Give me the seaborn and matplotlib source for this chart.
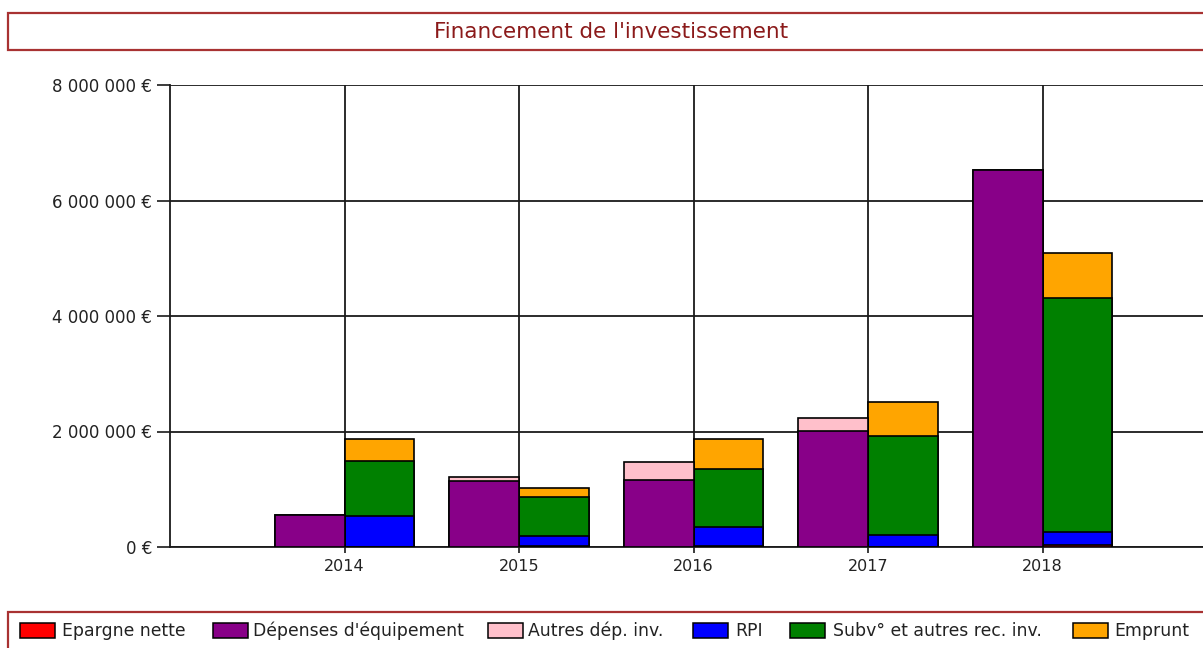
import matplotlib
matplotlib.use("Agg")
import matplotlib.pyplot as plt
from matplotlib.patches import Rectangle
from matplotlib.ticker import FuncFormatter
import seaborn as sns
import pandas as pd
import numpy as np

years = ["2014", "2015", "2016", "2017", "2018"]

# Dépenses (left bars)
depenses_equipement = [550000, 1148000, 1165000, 2014000, 6520000]
autres_dep_inv = [10000, 57000, 305000, 213000, 0]

# Ressources (right bars)
epargne_nette = [0, 20000, 20000, 0, 35000]
rpi = [540000, 175000, 326000, 208000, 225000]
subv_autres = [950000, 670000, 1010000, 1719000, 4045000]
emprunt = [385000, 165000, 519000, 577000, 785000]

legend_labels = ["Epargne nette", "Dépenses d'équipement", "Autres dép. inv.",
                 "RPI", "Subv° et autres rec. inv.", "Emprunt"]
colors = {"Epargne nette": "#FF0000", "Dépenses d'équipement": "#880088",
          "Autres dép. inv.": "#FFC0CB", "RPI": "#0000FF",
          "Subv° et autres rec. inv.": "#008000", "Emprunt": "#FFA500"}

sides = ["Dépenses", "Ressources"]

sns.set_theme(style="white")
plt.rcParams["font.family"] = ["DejaVu Sans"]

W, H = 1203, 648
fig = plt.figure(figsize=(W / 100, H / 100), dpi=100)
fig.patch.set_facecolor("white")

unit = 174.5
ax_left, ax_top, ax_bottom = 170, 85, 547
ax_width = 6 * unit
ax = fig.add_axes([ax_left / W, (H - ax_bottom) / H, ax_width / W, (ax_bottom - ax_top) / H])

right_series = [("Epargne nette", epargne_nette), ("RPI", rpi),
                ("Subv° et autres rec. inv.", subv_autres), ("Emprunt", emprunt)]
left_series = [("Dépenses d'équipement", depenses_equipement),
               ("Autres dép. inv.", autres_dep_inv)]

layers = []
for side, series in (("Ressources", right_series), ("Dépenses", left_series)):
    cum = np.zeros(len(years))
    side_layers = []
    for label, vals in series:
        cum = cum + np.array(vals, dtype=float)
        side_layers.append((side, label, cum.copy()))
    layers.extend(reversed(side_layers))

for side, label, cum in layers:
    df = pd.DataFrame({"year": years, "value": cum, "side": side})
    other = [s for s in sides if s != side][0]
    sns.barplot(data=df, x="year", y="value", hue="side", order=years,
                hue_order=sides, palette={side: colors[label], other: colors[label]},
                dodge=True, width=0.8, saturation=1, edgecolor="black",
                linewidth=1.2, errorbar=None, legend=False, ax=ax, zorder=3)

ax.set_xlim(-1, 5)
ax.set_ylim(0, 8000000)
ax.set_yticks([0, 2000000, 4000000, 6000000, 8000000])
ax.yaxis.set_major_formatter(FuncFormatter(lambda v, p: f"{int(v):,} €".replace(",", " ")))
ax.set_xlabel("")
ax.set_ylabel("")

ax.grid(True, axis="both", color="#1a1a1a", linewidth=1.3, zorder=0)
ax.set_axisbelow(True)
for s in ["top", "right"]:
    ax.spines[s].set_visible(False)
for s in ["left", "bottom"]:
    ax.spines[s].set_visible(True)
    ax.spines[s].set_color("#1a1a1a")
    ax.spines[s].set_linewidth(1.3)

ax.tick_params(axis="y", which="major", direction="out", length=9.5, width=1.2,
               color="#1a1a1a", pad=3.5, labelsize=12, labelcolor="#222222", left=True)
ax.tick_params(axis="x", which="major", direction="out", length=4.5, width=1.2,
               color="#1a1a1a", pad=4, labelsize=11.5, labelcolor="#222222", bottom=True)

# Title box
border = "#a83232"
fig.patches.append(Rectangle((8 / W, (H - 50) / H), (W + 10) / W, 37 / H,
                             transform=fig.transFigure, facecolor="white",
                             edgecolor=border, linewidth=1.6, zorder=1))
fig.text(611 / W, (H - 31.5) / H, "Financement de l'investissement",
         ha="center", va="center", fontsize=15.5, color="#8b1a1a")

# Legend box
fig.patches.append(Rectangle((8 / W, -10 / H), (W + 10) / W, (H - 612 + 10) / H,
                             transform=fig.transFigure, facecolor="white",
                             edgecolor=border, linewidth=1.6, zorder=1))
patch_x = [20, 213, 488, 693, 790, 1073]
text_x = [62, 253, 528, 735, 833, 1114]
for lab, px, tx in zip(legend_labels, patch_x, text_x):
    fig.patches.append(Rectangle((px / W, (H - 638) / H), 35 / W, 15 / H,
                                 transform=fig.transFigure, facecolor=colors[lab],
                                 edgecolor="black", linewidth=1.1, zorder=2))
    fig.text(tx / W, (H - 631) / H, lab, ha="left", va="center",
             fontsize=12.4, color="#222222")

fig.savefig("out.png", dpi=100, facecolor="white")
